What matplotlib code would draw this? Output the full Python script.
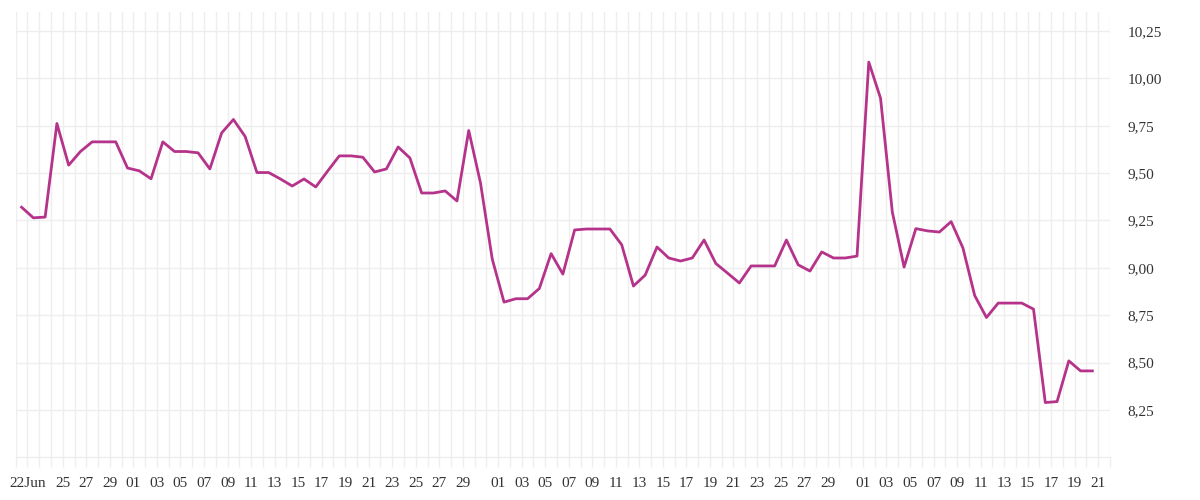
import pandas as pd
import matplotlib.pyplot as plt
import matplotlib.dates as mdates

# daily values, 21 Jun -> 20 Sep
values = [9.32, 9.264, 9.268, 9.762, 9.542, 9.614, 9.665, 9.665, 9.665, 9.527,
          9.512, 9.47, 9.665, 9.614, 9.614, 9.607, 9.522, 9.712, 9.783, 9.693,
          9.503, 9.503, 9.469, 9.432, 9.469, 9.427, 9.51, 9.591, 9.591, 9.584,
          9.506, 9.522, 9.638, 9.58, 9.395, 9.395, 9.406, 9.353, 9.725, 9.448,
          9.046, 8.819, 8.837, 8.837, 8.891, 9.075, 8.967, 9.2, 9.205, 9.205,
          9.205, 9.122, 8.904, 8.962, 9.11, 9.052, 9.036, 9.052, 9.147, 9.023,
          8.972, 8.92, 9.01, 9.01, 9.01, 9.147, 9.016, 8.983, 9.084, 9.052,
          9.052, 9.062, 10.086, 9.895, 9.295, 9.004, 9.207, 9.195, 9.189, 9.244,
          9.105, 8.854, 8.738, 8.814, 8.814, 8.814, 8.782, 8.289, 8.294, 8.509,
          8.456, 8.456]
dates = pd.date_range("2021-06-21 12:00", periods=len(values), freq="D")

tick_dates = (["2021-06-22"]
              + [f"2021-06-{d:02d}" for d in (25, 27, 29)]
              + [f"2021-{m:02d}-{d:02d}" for m in (7, 8) for d in range(1, 30, 2)]
              + [f"2021-09-{d:02d}" for d in range(1, 22, 2)])
tick_dates = pd.to_datetime(tick_dates)
tick_labels = ["22Jun"] + [d.strftime("%d") for d in tick_dates[1:]]
y_ticks = [8.25, 8.5, 8.75, 9.0, 9.25, 9.5, 9.75, 10.0, 10.25]

grid_c = "#eeeeee"
text_c = "#333333"
plt.rcParams['font.family'] = ['Liberation Serif', 'DejaVu Serif']

fig = plt.figure(figsize=(12, 5), dpi=100)
ax = fig.add_axes([0.0131, 0.0854, 0.9119, 0.8912])

ax.plot(dates, values, color="#b5338a", linewidth=2.0, zorder=3)

ax.set_xlim(pd.Timestamp("2021-06-21"), pd.Timestamp("2021-09-22"))
ax.set_ylim(8.0, 10.352)

ax.set_xticks(mdates.date2num(tick_dates), tick_labels)
ax.xaxis.set_minor_locator(mdates.DayLocator())
ax.grid(True, which="both", axis="x", color=grid_c, linewidth=1, zorder=0)

ax.yaxis.tick_right()
ax.set_yticks(y_ticks, [f"{v:.2f}".replace(".", ",") for v in y_ticks])
ax.grid(True, axis="y", color=grid_c, linewidth=1, zorder=0)

ax.tick_params(axis="x", which="both", length=7.5, width=1, color=grid_c,
               labelsize=11, labelcolor=text_c, pad=6.5)
ax.tick_params(axis="y", length=0, labelsize=11, labelcolor=text_c, pad=12.5)

for s in ["top", "left", "right"]:
    ax.spines[s].set_visible(False)
ax.spines["bottom"].set_color(grid_c)
ax.spines["bottom"].set_linewidth(1)

plt.savefig("out.png", dpi=100)
plt.close()
